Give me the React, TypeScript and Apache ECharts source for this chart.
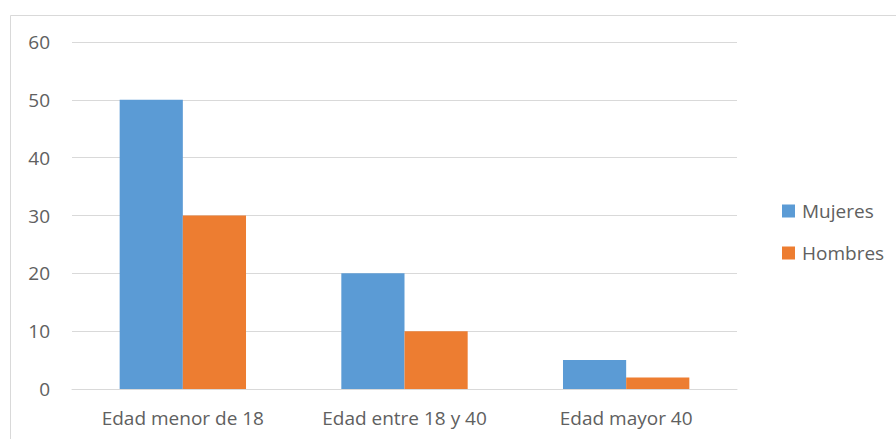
import React, { useEffect, useRef } from "react";
import * as echarts from "echarts";

const categories = ["Edad menor de 18", "Edad entre 18 y 40", "Edad mayor 40"];
const mujeres = [50, 20, 5];
const hombres = [30, 10, 2];
const seriesNames = ["Mujeres", "Hombres"];

const FONT = "'Open Sans', sans-serif";
const TXT = "#606060";

export default function App() {
  const ref = useRef<HTMLDivElement>(null);
  useEffect(() => {
    const chart = echarts.init(ref.current!, undefined, { renderer: "svg" });
    chart.setOption({
      animation: false,
      graphic: [
        {
          type: "rect",
          shape: { x: 10.5, y: 15.5, width: 1000, height: 1000 },
          style: { fill: "none", stroke: "#d9d9d9", lineWidth: 1 },
          silent: true,
        },
      ],
      grid: { left: 72, right: 159, top: 42, bottom: 50 },
      legend: {
        orient: "vertical",
        left: 777,
        top: 196,
        itemWidth: 13,
        itemHeight: 13,
        itemGap: 22,
        icon: "rect",
        textStyle: { color: TXT, fontFamily: FONT, fontSize: 19, lineHeight: 20, padding: [0, 0, 0, 2] },
        data: seriesNames,
      },
      xAxis: {
        type: "category",
        data: categories,
        axisLine: { lineStyle: { color: "#d9d9d9", width: 1 } },
        axisTick: { show: false },
        axisLabel: { color: TXT, fontFamily: FONT, fontSize: 19, lineHeight: 20, margin: 19, interval: 0 },
      },
      yAxis: {
        type: "value",
        min: 0,
        max: 60,
        interval: 10,
        axisLine: { show: false },
        axisTick: { show: false },
        splitLine: { lineStyle: { color: "#d9d9d9", width: 1 } },
        axisLabel: { color: TXT, fontFamily: FONT, fontSize: 19, margin: 22 },
      },
      series: [
        {
          name: seriesNames[0],
          type: "bar",
          data: mujeres,
          itemStyle: { color: "#5B9BD5" },
          barGap: "0%",
          barCategoryGap: "43%",
        },
        {
          name: seriesNames[1],
          type: "bar",
          data: hombres,
          itemStyle: { color: "#ED7D31" },
          barGap: "0%",
          barCategoryGap: "43%",
        },
      ],
    });
    return () => chart.dispose();
  }, []);
  return (
    <div
      ref={ref}
      style={{ position: "fixed", left: 0, top: 0, width: 896, height: 439, background: "#fff" }}
    />
  );
}
